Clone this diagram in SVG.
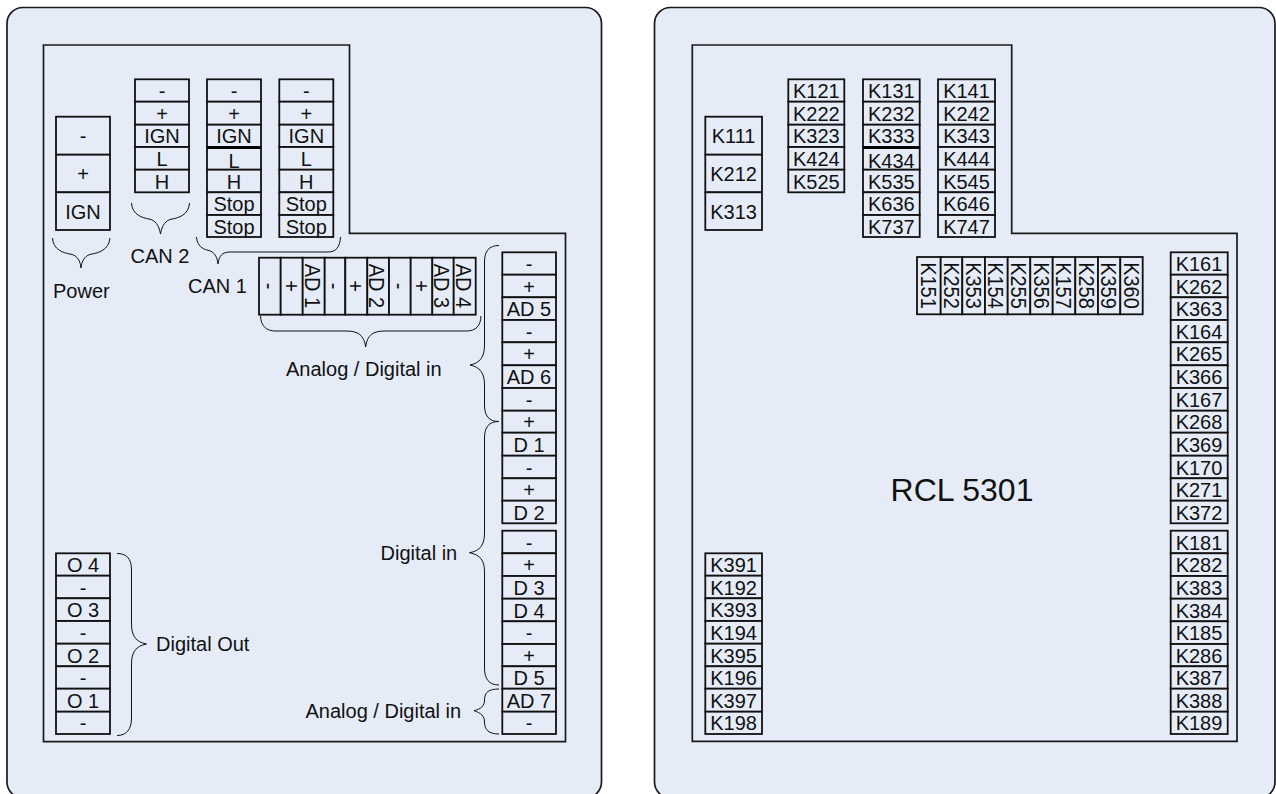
<svg xmlns="http://www.w3.org/2000/svg" width="1276" height="794" viewBox="0 0 1276 794">
<style>
.panel{fill:#E6ECF7;stroke:#1a1a1a;stroke-width:1.7}
.inner{fill:#E6ECF7;stroke:#1a1a1a;stroke-width:1.7}
rect{fill:#E6ECF7;stroke:#111;stroke-width:1.8}
.brace{fill:none;stroke:#111;stroke-width:1}
text{font-family:"Liberation Sans",Arial,sans-serif;font-size:20px;fill:#111;text-anchor:middle}
.lab{text-anchor:start}
.big{font-size:32px}
</style>
<g id="left-panel"><rect class="panel" x="7" y="7.5" width="594.5" height="790.5" rx="16" ry="16"/><path class="inner" d="M43.5 45H349.5V233.3H565.5V741.7H43.5Z"/></g>
<g id="right-panel"><rect class="panel" x="654.5" y="7.5" width="620.5" height="790.5" rx="16" ry="16"/><path class="inner" d="M692.3 45H1011.7V233.3H1237V741.3H692.3Z"/></g>
<g id="connectors">
<path class="brace" d="M52.5 238C53 250 64 253 70 254C76 255 80 259 81 268C82 259 86 255 92 254C98 253 109 250 110 238"/>
<path class="brace" d="M131.5 203C132 215 143 218 149 219C155 220 159 225 160.5 234C162 225 166 220 172 219C178 218 189 215 189.5 203"/>
<path class="brace" d="M196.5 237C197 246 203 249 207 250C213 251 217 255 218 264C219 256 222 252 230 252L328 252C336 252 340 247 340.5 237"/>
<path class="brace" d="M260.5 316C261 326 266 331 276 331L346 331C358 331 364 335 365.7 347C367 335 373 331 385 331L466 331C476 331 480.5 326 481 316"/>
<path class="brace" d="M499 245.5C489 245.5 484.5 251 484.5 262L484.5 345C484.5 357 480 363 470 365C480 367 484.5 373 484.5 385L484.5 405C484.5 416 489 421.5 499 421.5"/>
<path class="brace" d="M499 421.5C489 421.5 484.5 427 484.5 438L484.5 533C484.5 545 480 551 469.5 552.7C480 555 484.5 560 484.5 572L484.5 668C484.5 679 489 685 499 685"/>
<path class="brace" d="M499 689C489 689 484.5 692 484.5 700C484.5 706 481 709 474 710.7C481 713 484.5 716 484.5 722C484.5 730 489 734 499 734"/>
<path class="brace" d="M117 553.5C126 553.5 131.5 558 131.5 570L131.5 624C131.5 636 136 642 146.5 644C136 646 131.5 652 131.5 664L131.5 718C131.5 730 126 735.5 117 735.5"/>
</g>
<g id="labels">
<text class="lab" x="53" y="298">Power</text>
<text class="lab" x="130.5" y="262.7">CAN 2</text>
<text class="lab" x="188" y="293.3">CAN 1</text>
<text class="lab" x="286" y="375.7">Analog / Digital in</text>
<text class="lab" x="380.5" y="560">Digital in</text>
<text class="lab" x="305.5" y="718">Analog / Digital in</text>
<text class="lab" x="156" y="651">Digital Out</text>
<text class="big" x="962" y="501">RCL 5301</text>
</g>
<g id="power">
<rect x="56" y="116.7" width="54" height="38"/><rect x="56" y="154.7" width="54" height="37.6"/><rect x="56" y="192.3" width="54" height="37.7"/>
<text x="83" y="143">-</text><text x="83" y="181">+</text><text x="83" y="218.5">IGN</text>
</g>
<g id="can2">
<rect x="135" y="79.3" width="54" height="22.4"/><rect x="135" y="101.7" width="54" height="23"/><rect x="135" y="124.7" width="54" height="22.3"/><rect x="135" y="147" width="54" height="22.7"/><rect x="135" y="169.7" width="54" height="22.6"/>
<text x="162" y="98">-</text><text x="162" y="120.5">+</text><text x="162" y="143.3">IGN</text><text x="162" y="166">L</text><text x="162" y="188.5">H</text>
</g>
<g id="can1-a">
<rect x="207" y="79.3" width="54" height="22.4"/><rect x="207" y="101.7" width="54" height="23"/><rect x="207" y="124.7" width="54" height="22.3"/><rect x="207" y="148" width="54" height="21.7"/><rect x="207" y="169.7" width="54" height="22.6"/><rect x="207" y="192.3" width="54" height="22.7"/><rect x="207" y="215" width="54" height="22"/>
<path d="M207 147.5H261" stroke="#000" stroke-width="2.5"/>
<text x="234" y="98">-</text><text x="234" y="120.5">+</text><text x="234" y="143.3">IGN</text><text x="234" y="168">L</text><text x="234" y="188.5">H</text><text x="234" y="211">Stop</text><text x="234" y="233.5">Stop</text>
</g>
<g id="can1-b">
<rect x="279.3" y="79.3" width="54" height="22.4"/><rect x="279.3" y="101.7" width="54" height="23"/><rect x="279.3" y="124.7" width="54" height="22.3"/><rect x="279.3" y="147" width="54" height="22.7"/><rect x="279.3" y="169.7" width="54" height="22.6"/><rect x="279.3" y="192.3" width="54" height="22.7"/><rect x="279.3" y="215" width="54" height="22"/>
<text x="306.3" y="98">-</text><text x="306.3" y="120.5">+</text><text x="306.3" y="143.3">IGN</text><text x="306.3" y="166">L</text><text x="306.3" y="188.5">H</text><text x="306.3" y="211">Stop</text><text x="306.3" y="233.5">Stop</text>
</g>
<g id="analog-row">
<rect x="259" y="257.7" width="21.7" height="57"/><rect x="280.7" y="257.7" width="22" height="57"/><rect x="302.7" y="257.7" width="22" height="57"/><rect x="324.7" y="257.7" width="20.6" height="57"/><rect x="345.3" y="257.7" width="22" height="57"/><rect x="367.3" y="257.7" width="21.7" height="57"/><rect x="389" y="257.7" width="21.7" height="57"/><rect x="410.7" y="257.7" width="21.6" height="57"/><rect x="432.3" y="257.7" width="21.4" height="57"/><rect x="453.7" y="257.7" width="22" height="57"/>
<text transform="translate(261.9,286) rotate(90) scale(1,1.12)">-</text><text transform="translate(283.7,286) rotate(90) scale(1,1.12)">+</text><text transform="translate(304.7,286) rotate(90) scale(1,1.12)">AD 1</text><text transform="translate(327,286) rotate(90) scale(1,1.12)">-</text><text transform="translate(348.3,286) rotate(90) scale(1,1.12)">+</text><text transform="translate(369.2,286) rotate(90) scale(1,1.12)">AD 2</text><text transform="translate(391.9,286) rotate(90) scale(1,1.12)">-</text><text transform="translate(413.5,286) rotate(90) scale(1,1.12)">+</text><text transform="translate(434,286) rotate(90) scale(1,1.12)">AD 3</text><text transform="translate(455.7,286) rotate(90) scale(1,1.12)">AD 4</text>
</g>
<g id="inputs-upper">
<rect x="502.3" y="252.3" width="53.7" height="22.4"/><rect x="502.3" y="274.7" width="53.7" height="22.6"/><rect x="502.3" y="297.3" width="53.7" height="22.7"/><rect x="502.3" y="320" width="53.7" height="22.3"/><rect x="502.3" y="342.3" width="53.7" height="23"/><rect x="502.3" y="365.3" width="53.7" height="22.7"/><rect x="502.3" y="388" width="53.7" height="22.7"/><rect x="502.3" y="410.7" width="53.7" height="22"/><rect x="502.3" y="432.7" width="53.7" height="23"/><rect x="502.3" y="455.7" width="53.7" height="22.6"/><rect x="502.3" y="478.3" width="53.7" height="22.4"/><rect x="502.3" y="500.7" width="53.7" height="22.6"/>
<text x="529" y="271">-</text><text x="529" y="293.5">+</text><text x="529" y="316.2">AD 5</text><text x="529" y="338.7">-</text><text x="529" y="361.3">+</text><text x="529" y="384.2">AD 6</text><text x="529" y="406.9">-</text><text x="529" y="429.2">+</text><text x="529" y="451.7">D 1</text><text x="529" y="474.5">-</text><text x="529" y="497">+</text><text x="529" y="519.5">D 2</text>
</g>
<g id="inputs-lower">
<rect x="502.3" y="530.7" width="53.7" height="22.6"/><rect x="502.3" y="553.3" width="53.7" height="22.7"/><rect x="502.3" y="576" width="53.7" height="22.7"/><rect x="502.3" y="598.7" width="53.7" height="22.6"/><rect x="502.3" y="621.3" width="53.7" height="22.7"/><rect x="502.3" y="644" width="53.7" height="22.3"/><rect x="502.3" y="666.3" width="53.7" height="22.4"/><rect x="502.3" y="688.7" width="53.7" height="23"/><rect x="502.3" y="711.7" width="53.7" height="22.3"/>
<text x="529" y="549.5">-</text><text x="529" y="572.2">+</text><text x="529" y="594.8">D 3</text><text x="529" y="617.5">D 4</text><text x="529" y="640.2">-</text><text x="529" y="662.7">+</text><text x="529" y="685">D 5</text><text x="529" y="707.7">AD 7</text><text x="529" y="730">-</text>
</g>
<g id="digital-out">
<rect x="56" y="553.3" width="54" height="22.4"/><rect x="56" y="575.7" width="54" height="22.6"/><rect x="56" y="598.3" width="54" height="22.7"/><rect x="56" y="621" width="54" height="22.7"/><rect x="56" y="643.7" width="54" height="22.6"/><rect x="56" y="666.3" width="54" height="22.4"/><rect x="56" y="688.7" width="54" height="23"/><rect x="56" y="711.7" width="54" height="22.3"/>
<text x="83" y="572">O 4</text><text x="83" y="594.5">-</text><text x="83" y="617.2">O 3</text><text x="83" y="640">-</text><text x="83" y="662.5">O 2</text><text x="83" y="685">-</text><text x="83" y="707.7">O 1</text><text x="83" y="730.3">-</text>
</g>
<g id="k11">
<rect x="705.3" y="116.7" width="56.7" height="38"/><rect x="705.3" y="154.7" width="56.7" height="37.6"/><rect x="705.3" y="192.3" width="56.7" height="37.7"/>
<text x="733.6" y="143">K111</text><text x="733.6" y="181">K212</text><text x="733.6" y="218.5">K313</text>
</g>
<g id="k12">
<rect x="788.3" y="79.3" width="56" height="22.4"/><rect x="788.3" y="101.7" width="56" height="23"/><rect x="788.3" y="124.7" width="56" height="22.3"/><rect x="788.3" y="147" width="56" height="22.7"/><rect x="788.3" y="169.7" width="56" height="22.6"/>
<text x="816.3" y="98">K121</text><text x="816.3" y="120.5">K222</text><text x="816.3" y="143.3">K323</text><text x="816.3" y="165.8">K424</text><text x="816.3" y="188.5">K525</text>
</g>
<g id="k13">
<rect x="863" y="79.3" width="56.7" height="22.4"/><rect x="863" y="101.7" width="56.7" height="23"/><rect x="863" y="124.7" width="56.7" height="22.3"/><rect x="863" y="148" width="56.7" height="21.7"/><rect x="863" y="169.7" width="56.7" height="22.6"/><rect x="863" y="192.3" width="56.7" height="22.7"/><rect x="863" y="215" width="56.7" height="22"/>
<path d="M863 147.5H919.7" stroke="#000" stroke-width="2.5"/>
<text x="891.3" y="98">K131</text><text x="891.3" y="120.5">K232</text><text x="891.3" y="143.3">K333</text><text x="891.3" y="168">K434</text><text x="891.3" y="188.5">K535</text><text x="891.3" y="211">K636</text><text x="891.3" y="233.5">K737</text>
</g>
<g id="k14">
<rect x="938" y="79.3" width="57" height="22.4"/><rect x="938" y="101.7" width="57" height="23"/><rect x="938" y="124.7" width="57" height="22.3"/><rect x="938" y="147" width="57" height="22.7"/><rect x="938" y="169.7" width="57" height="22.6"/><rect x="938" y="192.3" width="57" height="22.7"/><rect x="938" y="215" width="57" height="22"/>
<text x="966.5" y="98">K141</text><text x="966.5" y="120.5">K242</text><text x="966.5" y="143.3">K343</text><text x="966.5" y="165.8">K444</text><text x="966.5" y="188.5">K545</text><text x="966.5" y="211">K646</text><text x="966.5" y="233.5">K747</text>
</g>
<g id="k15">
<rect x="917" y="257" width="23.7" height="57.3"/><rect x="940.7" y="257" width="21.6" height="57.3"/><rect x="962.3" y="257" width="22.7" height="57.3"/><rect x="985" y="257" width="22.7" height="57.3"/><rect x="1007.7" y="257" width="22.6" height="57.3"/><rect x="1030.3" y="257" width="22.4" height="57.3"/><rect x="1052.7" y="257" width="22.6" height="57.3"/><rect x="1075.3" y="257" width="22.7" height="57.3"/><rect x="1098" y="257" width="22.3" height="57.3"/><rect x="1120.3" y="257" width="22.4" height="57.3"/>
<text transform="translate(920.9,285.5) rotate(90) scale(1,1.12)">K151</text><text transform="translate(943.5,285.5) rotate(90) scale(1,1.12)">K252</text><text transform="translate(965.7,285.5) rotate(90) scale(1,1.12)">K353</text><text transform="translate(988.4,285.5) rotate(90) scale(1,1.12)">K154</text><text transform="translate(1011,285.5) rotate(90) scale(1,1.12)">K255</text><text transform="translate(1033.5,285.5) rotate(90) scale(1,1.12)">K356</text><text transform="translate(1056,285.5) rotate(90) scale(1,1.12)">K157</text><text transform="translate(1078.7,285.5) rotate(90) scale(1,1.12)">K258</text><text transform="translate(1101.2,285.5) rotate(90) scale(1,1.12)">K359</text><text transform="translate(1123.5,285.5) rotate(90) scale(1,1.12)">K360</text>
</g>
<g id="k16">
<rect x="1170.7" y="252.3" width="57" height="22.4"/><rect x="1170.7" y="274.7" width="57" height="22.6"/><rect x="1170.7" y="297.3" width="57" height="22.7"/><rect x="1170.7" y="320" width="57" height="22.3"/><rect x="1170.7" y="342.3" width="57" height="23"/><rect x="1170.7" y="365.3" width="57" height="22.7"/><rect x="1170.7" y="388" width="57" height="22.7"/><rect x="1170.7" y="410.7" width="57" height="22"/><rect x="1170.7" y="432.7" width="57" height="23"/><rect x="1170.7" y="455.7" width="57" height="22.6"/><rect x="1170.7" y="478.3" width="57" height="22.4"/><rect x="1170.7" y="500.7" width="57" height="22.6"/>
<text x="1199" y="271">K161</text><text x="1199" y="293.5">K262</text><text x="1199" y="316.2">K363</text><text x="1199" y="338.7">K164</text><text x="1199" y="361.3">K265</text><text x="1199" y="384.2">K366</text><text x="1199" y="406.9">K167</text><text x="1199" y="429.2">K268</text><text x="1199" y="451.7">K369</text><text x="1199" y="474.5">K170</text><text x="1199" y="497">K271</text><text x="1199" y="519.5">K372</text>
</g>
<g id="k18">
<rect x="1170.7" y="530.7" width="57" height="22.6"/><rect x="1170.7" y="553.3" width="57" height="22.7"/><rect x="1170.7" y="576" width="57" height="22.7"/><rect x="1170.7" y="598.7" width="57" height="22.6"/><rect x="1170.7" y="621.3" width="57" height="22.7"/><rect x="1170.7" y="644" width="57" height="22.3"/><rect x="1170.7" y="666.3" width="57" height="22.4"/><rect x="1170.7" y="688.7" width="57" height="23"/><rect x="1170.7" y="711.7" width="57" height="22.3"/>
<text x="1199" y="549.5">K181</text><text x="1199" y="572.2">K282</text><text x="1199" y="594.8">K383</text><text x="1199" y="617.5">K384</text><text x="1199" y="640.2">K185</text><text x="1199" y="662.7">K286</text><text x="1199" y="685">K387</text><text x="1199" y="707.7">K388</text><text x="1199" y="730">K189</text>
</g>
<g id="k19">
<rect x="705.3" y="553.3" width="56.7" height="22.4"/><rect x="705.3" y="575.7" width="56.7" height="22.6"/><rect x="705.3" y="598.3" width="56.7" height="22.7"/><rect x="705.3" y="621" width="56.7" height="22.7"/><rect x="705.3" y="643.7" width="56.7" height="22.6"/><rect x="705.3" y="666.3" width="56.7" height="22.4"/><rect x="705.3" y="688.7" width="56.7" height="23"/><rect x="705.3" y="711.7" width="56.7" height="22.3"/>
<text x="733.6" y="572">K391</text><text x="733.6" y="594.5">K192</text><text x="733.6" y="617.2">K393</text><text x="733.6" y="640">K194</text><text x="733.6" y="662.5">K395</text><text x="733.6" y="685">K196</text><text x="733.6" y="707.7">K397</text><text x="733.6" y="730.3">K198</text>
</g>
</svg>
